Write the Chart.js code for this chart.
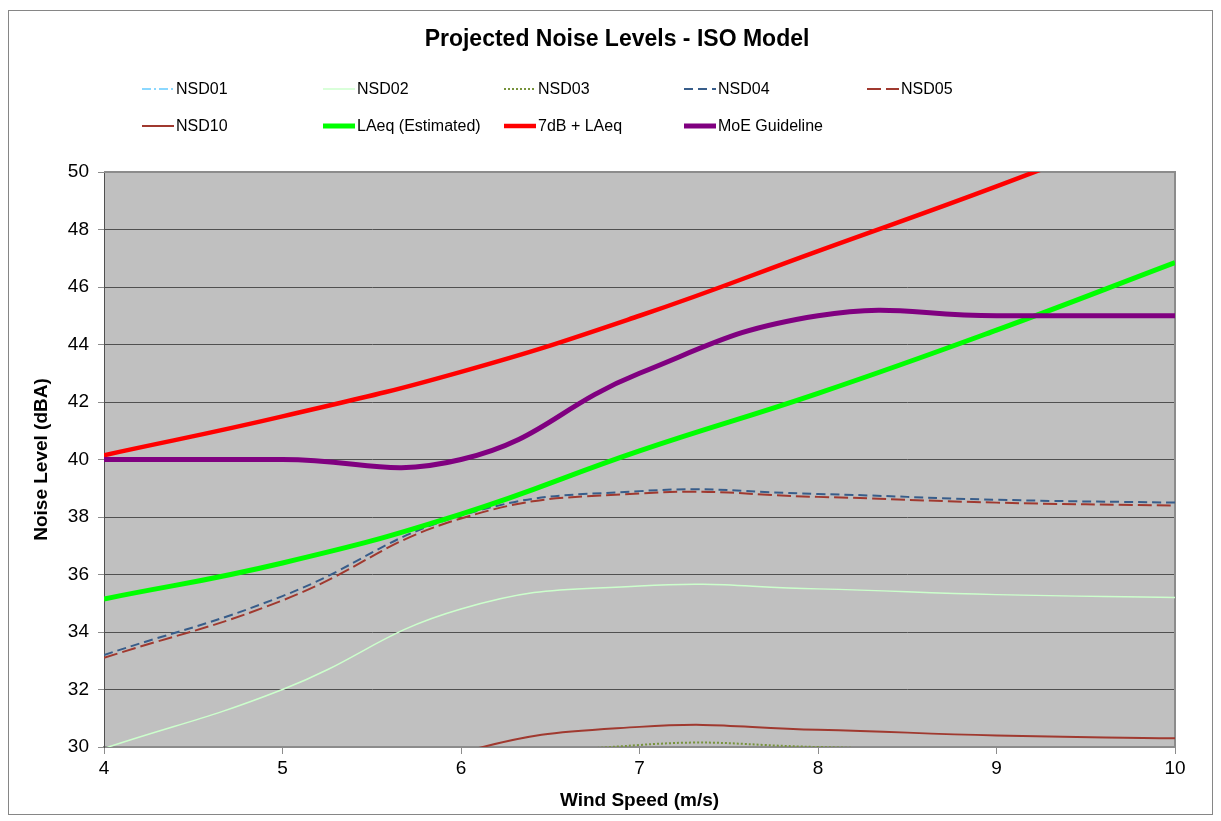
<!DOCTYPE html>
<html lang="en">
<head>
  <title>Projected Noise Levels - ISO Model</title>
  <script src="https://cdn.jsdelivr.net/npm/chart.js"></script>
  <style>
    html, body { margin: 0; padding: 0; background: #fff; }
    #wrap { width: 1221px; height: 821px; }
  </style>
</head>
<body>
  <div id="wrap"><canvas id="myChart" width="1221" height="821"></canvas></div>
  <script>
    // wind speed categories (m/s)
    const windSpeed = ['4', '5', '6', '7', '8', '9', '10'];

    // series (dBA)
    const nsd01 = [22.1, 24.0, 26.6, 27.5, 27.4, 27.2, 27.1];
    const nsd02 = [29.95, 32.0, 34.8, 35.6, 35.5, 35.3, 35.2];
    const nsd03 = [24.5, 26.5, 29.1, 30.07, 30.0, 29.8, 29.7];
    const nsd04 = [33.2, 35.25, 38.05, 38.9, 38.8, 38.6, 38.5];
    const nsd05 = [33.1, 35.1, 37.95, 38.82, 38.7, 38.5, 38.4];
    const nsd10 = [25.5, 27.3, 29.8, 30.7, 30.6, 30.4, 30.3];
    const laeq = [35.15, 36.4, 38.1, 40.3, 42.3, 44.5, 46.85];
    const laeqPlus7 = [40.15, 41.5, 43.05, 45.0, 47.25, 49.5, 51.9];
    const moeGuideline = [40, 40, 40, 43, 45, 45, 45];

    const yTicks = [30, 32, 34, 36, 38, 40, 42, 44, 46, 48, 50];

    const FONT = '"Liberation Sans", Arial, sans-serif';

    function series(label, data, color, width, dash, order) {
      return {
        label: label,
        data: data,
        borderColor: color,
        backgroundColor: color,
        borderWidth: width,
        borderDash: dash,
        pointRadius: 0,
        tension: 0.45,
        fill: false,
        clip: 0,
        order: order
      };
    }

    // legend grid: 5 columns x 2 rows like the original
    const legendCols = [142, 323, 504, 684, 867];
    const legendRows = [89, 126];

    const frame = {
      id: 'frame',
      beforeDraw(chart) {
        const ctx = chart.ctx;
        const a = chart.chartArea;
        ctx.save();
        ctx.fillStyle = '#fff';
        ctx.fillRect(0, 0, chart.width, chart.height);
        ctx.strokeStyle = '#868686';
        ctx.lineWidth = 1;
        ctx.strokeRect(8.5, 10.5, 1204, 804);
        ctx.fillStyle = '#C0C0C0';
        ctx.fillRect(a.left, a.top, a.right - a.left, a.bottom - a.top);
        ctx.restore();
      },
      beforeDatasetsDraw(chart) {
        const ctx = chart.ctx;
        const a = chart.chartArea;
        ctx.save();
        ctx.strokeStyle = '#8c8c8c';
        ctx.lineWidth = 2;
        ctx.beginPath();
        ctx.moveTo(a.left, a.top);
        ctx.lineTo(a.right, a.top);
        ctx.lineTo(a.right, a.bottom);
        ctx.stroke();
        ctx.restore();
      },
      afterDraw(chart) {
        const ctx = chart.ctx;
        ctx.save();
        ctx.fillStyle = '#000';
        ctx.font = 'bold 23px ' + FONT;
        ctx.textAlign = 'center';
        ctx.textBaseline = 'middle';
        ctx.fillText('Projected Noise Levels - ISO Model', 617, 40);

        ctx.font = '16px ' + FONT;
        ctx.textAlign = 'left';
        chart.data.datasets.forEach((ds, i) => {
          const x = legendCols[i % 5];
          const y = legendRows[Math.floor(i / 5)];
          ctx.strokeStyle = ds.borderColor;
          ctx.lineWidth = ds.borderWidth;
          ctx.setLineDash(ds.borderDash || []);
          ctx.beginPath();
          ctx.moveTo(x, y);
          ctx.lineTo(x + 32, y);
          ctx.stroke();
          ctx.setLineDash([]);
          ctx.fillText(ds.label, x + 34, y + 1);
        });
        ctx.restore();
      }
    };

    const ctx = document.getElementById('myChart').getContext('2d');
    const myChart = new Chart(ctx, {
      type: 'line',
      data: {
        labels: windSpeed,
        datasets: [
          series('NSD01', nsd01, '#66CCFF', 1.5, [9, 3, 2, 3], 9),
          series('NSD02', nsd02, '#CCFFCC', 1.5, [], 8),
          series('NSD03', nsd03, '#77933C', 2, [2, 2], 7),
          series('NSD04', nsd04, '#385D8A', 2, [9, 5], 6),
          series('NSD05', nsd05, '#A0392F', 2, [14, 5], 5),
          series('NSD10', nsd10, '#A0392F', 2, [], 4),
          series('LAeq (Estimated)', laeq, '#00FF00', 5, [], 3),
          series('7dB + LAeq', laeqPlus7, '#FF0000', 4.5, [], 2),
          series('MoE Guideline', moeGuideline, '#800080', 5, [], 1)
        ]
      },
      plugins: [frame],
      options: {
        responsive: false,
        animation: false,
        devicePixelRatio: 1,
        layout: { padding: { top: 172, right: 46, bottom: 0, left: 0 } },
        plugins: {
          legend: { display: false },
          title: { display: false },
          tooltip: { enabled: false }
        },
        scales: {
          x: {
            type: 'category',
            offset: false,
            afterFit: function(scale) { scale.height = 74; },
            grid: {
              drawOnChartArea: false,
              drawTicks: true,
              tickLength: 7,
              color: '#8c8c8c'
            },
            border: { color: '#8c8c8c', width: 2 },
            ticks: {
              color: '#000',
              padding: 3,
              maxRotation: 0,
              font: { family: FONT, size: 19 }
            },
            title: {
              display: true,
              text: 'Wind Speed (m/s)',
              color: '#000',
              padding: { top: 0, bottom: 9 },
              font: { family: FONT, size: 19, weight: 'bold' }
            }
          },
          y: {
            min: 30,
            max: 50,
            afterFit: function(scale) { scale.width = 104; },
            afterBuildTicks: function(scale) {
              scale.ticks = yTicks.map(v => ({ value: v }));
            },
            grid: {
              color: '#505050',
              lineWidth: 1,
              tickLength: 6,
              tickColor: '#8c8c8c'
            },
            border: { color: '#505050', width: 1 },
            ticks: {
              color: '#000',
              padding: 9,
              font: { family: FONT, size: 19 }
            },
            title: {
              display: true,
              text: 'Noise Level (dBA)',
              color: '#000',
              padding: { top: 30, bottom: 0 },
              font: { family: FONT, size: 19, weight: 'bold' }
            }
          }
        }
      }
    });
  </script>
</body>
</html>
